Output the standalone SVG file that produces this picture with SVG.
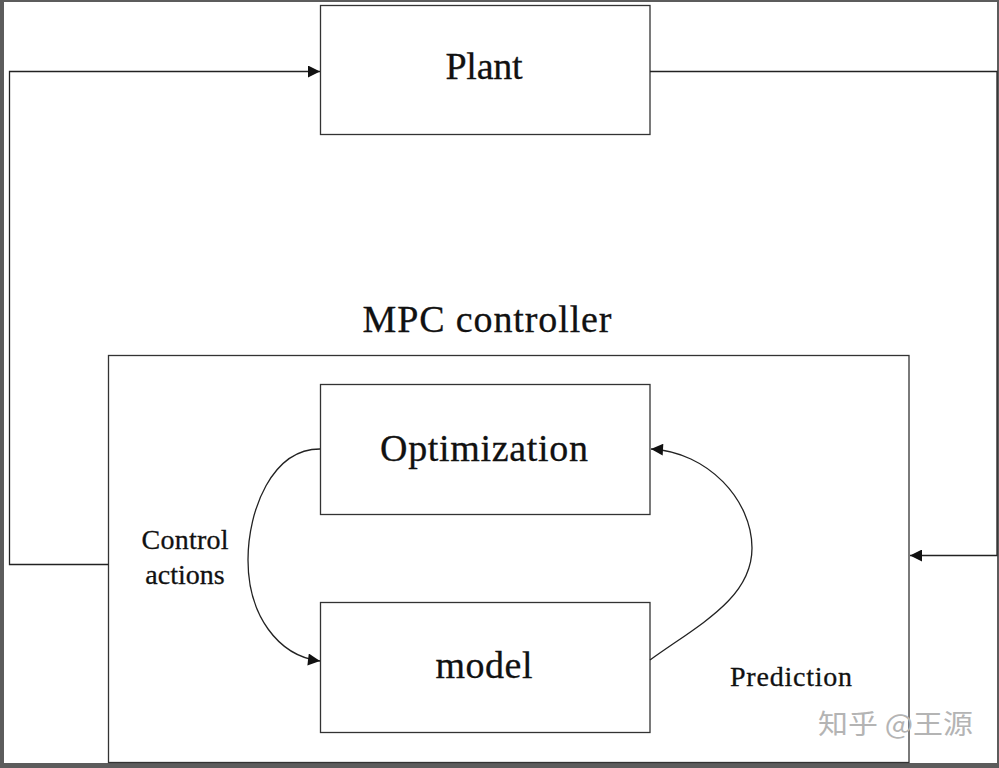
<svg xmlns="http://www.w3.org/2000/svg" width="999" height="768" viewBox="0 0 999 768">
<style>
.box{fill:#fff;stroke:#333;stroke-width:1.3}
.ln{fill:none;stroke:#222;stroke-width:1.3}
.t{font-family:"Liberation Serif","Times New Roman",serif;fill:#111;stroke:#111;stroke-width:0.3}
.big{font-size:38px}
.sm{font-size:28px}
.wm{font-family:"Noto Sans CJK SC","Noto Sans",sans-serif;font-size:27px;fill:#b4b4b4}
</style>
<defs>
<marker id="ah" viewBox="0 0 10 10" refX="10" refY="5" markerWidth="17" markerHeight="12" markerUnits="userSpaceOnUse" orient="auto">
<path d="M0,0 L10,5 L0,10 z" fill="#111"/>
</marker>
</defs>
<rect x="0" y="0" width="999" height="768" fill="#5c5c5c"/>
<rect x="4" y="2" width="993" height="761" fill="#fff"/>

<g id="mpc">
<rect class="box" x="108.5" y="355.5" width="800.5" height="407"/>
<text class="t big" x="487" y="332" text-anchor="middle" textLength="249" lengthAdjust="spacing">MPC controller</text>
</g>
<g id="plant">
<rect class="box" x="320.5" y="5.5" width="329.5" height="129"/>
<text class="t big" x="484" y="79" text-anchor="middle" textLength="77" lengthAdjust="spacing">Plant</text>
</g>
<g id="optimization">
<rect class="box" x="320.5" y="384.5" width="329.5" height="130"/>
<text class="t big" x="484" y="461" text-anchor="middle" textLength="208" lengthAdjust="spacing">Optimization</text>
</g>
<g id="model">
<rect class="box" x="320.5" y="602.5" width="329.5" height="130"/>
<text class="t big" x="484" y="678" text-anchor="middle" textLength="97" lengthAdjust="spacing">model</text>
</g>

<g id="connectors">
<path class="ln" d="M650,71.5 H997 V555.5 H910" marker-end="url(#ah)"/>
<path class="ln" d="M108.5,564.5 H9.5 V71.5 H320" marker-end="url(#ah)"/>
<path class="ln" d="M320,449 C272,449 248,510 248,560 C248,615 278,656 320,661" marker-end="url(#ah)"/>
<path class="ln" d="M650,660 C700,624 752,598 752,548 C752,500 708,452 651,449" marker-end="url(#ah)"/>
</g>

<g id="labels">
<text class="t sm" x="185" y="549" text-anchor="middle" textLength="87" lengthAdjust="spacing">Control</text>
<text class="t sm" x="185" y="584" text-anchor="middle">actions</text>
<text class="t sm" x="791" y="686" text-anchor="middle" textLength="122" lengthAdjust="spacing">Prediction</text>
</g>
<text class="wm" x="818" y="734" textLength="155" lengthAdjust="spacingAndGlyphs">知乎 @王源</text>
</svg>
